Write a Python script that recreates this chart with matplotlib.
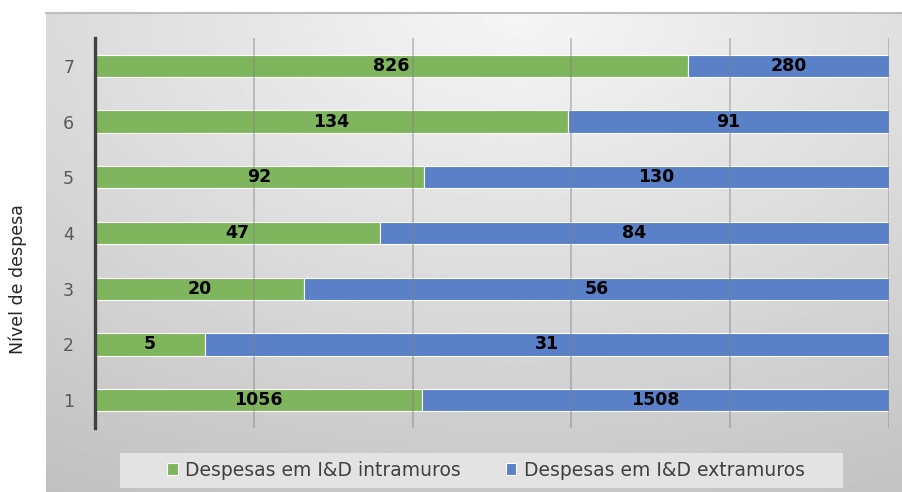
import matplotlib.pyplot as plt
from matplotlib.patches import Rectangle
import numpy as np

# Despesas por nível (1..7)
niveis = ['1', '2', '3', '4', '5', '6', '7']
intramuros = [1056, 5, 20, 47, 92, 134, 826]
extramuros = [1508, 31, 56, 84, 130, 91, 280]

cor_intra = '#7FB65D'
cor_extra = '#5A81C8'

fig = plt.figure(figsize=(9.03, 4.92), dpi=100)
fig.patch.set_facecolor('white')

# fundo com gradiente radial
bg = fig.add_axes([46 / 903, 0, 1 - 46 / 903, (492 - 13) / 492], zorder=0)
gx, gy = np.meshgrid(np.linspace(0, 1, 400), np.linspace(0, 1, 220))
d = np.sqrt(((gx - 0.55) / 1.0) ** 2 + ((gy - 0.0) / 1.1) ** 2)
shade = 0.965 - 0.2 * np.clip(d, 0, 1.1)
bg.imshow(shade, cmap='gray', vmin=0, vmax=1, aspect='auto', extent=[0, 1, 1, 0])
bg.set_axis_off()
fig.add_artist(plt.Line2D([46 / 903, 1], [1 - 13 / 492, 1 - 13 / 492],
                          color='#BDBDBD', lw=1.5, transform=fig.transFigure))

ax = fig.add_axes([95 / 903, 1 - 428 / 492, (889 - 95) / 903, (428 - 38) / 492], zorder=1)
ax.set_facecolor('none')

y = np.arange(1, len(niveis) + 1)
tot = np.array(intramuros) + np.array(extramuros)
p_in = np.array(intramuros) / tot
p_ex = np.array(extramuros) / tot

b1 = ax.barh(y, p_in, height=0.4, color=cor_intra, edgecolor='white', linewidth=0.8,
             label='Despesas em I&D intramuros', zorder=2)
b2 = ax.barh(y, p_ex, left=p_in, height=0.4, color=cor_extra, edgecolor='white',
             linewidth=0.8, label='Despesas em I&D extramuros', zorder=2)

for i in range(len(niveis)):
    ax.text(p_in[i] / 2, y[i], str(intramuros[i]), ha='center', va='center',
            fontsize=12.5, fontweight='bold', color='black', zorder=4)
    ax.text(p_in[i] + p_ex[i] / 2, y[i], str(extramuros[i]), ha='center', va='center',
            fontsize=12.5, fontweight='bold', color='black', zorder=4)

for gxv in [0.2, 0.4, 0.6, 0.8, 1.0]:
    ax.axvline(gxv, color='#808080', lw=1.3, alpha=0.45, zorder=3)

ax.set_xlim(0, 1)
ax.set_ylim(0.5, 7.5)
ax.set_xticks([])
ax.set_yticks(y)
ax.set_yticklabels(niveis, fontsize=12.5, color='#595959')
ax.tick_params(axis='y', length=0, pad=15)
for s in ['top', 'right', 'bottom']:
    ax.spines[s].set_visible(False)
ax.spines['left'].set_color('#404040')
ax.spines['left'].set_linewidth(2.4)

fig.text(18 / 903, 1 - 279 / 492, 'Nível de despesa', rotation=90, ha='center',
         va='center', fontsize=12.5, color='#262626')

# caixa da legenda
fig.add_artist(Rectangle((120 / 903, 1 - 488 / 492), (843 - 120) / 903, 35 / 492,
                         transform=fig.transFigure, facecolor='#E3E3E3',
                         edgecolor='none', zorder=1))
leg = fig.legend(handles=[b1, b2], loc='center', bbox_to_anchor=(486 / 903, 1 - 470 / 492),
                 ncol=2, frameon=False, fontsize=13.5, handlelength=0.55, handleheight=0.55,
                 handletextpad=0.4, columnspacing=2.4, borderaxespad=0)
leg.set_zorder(2)
for t in leg.get_texts():
    t.set_color('#404040')

fig.savefig('out.png', dpi=100)
